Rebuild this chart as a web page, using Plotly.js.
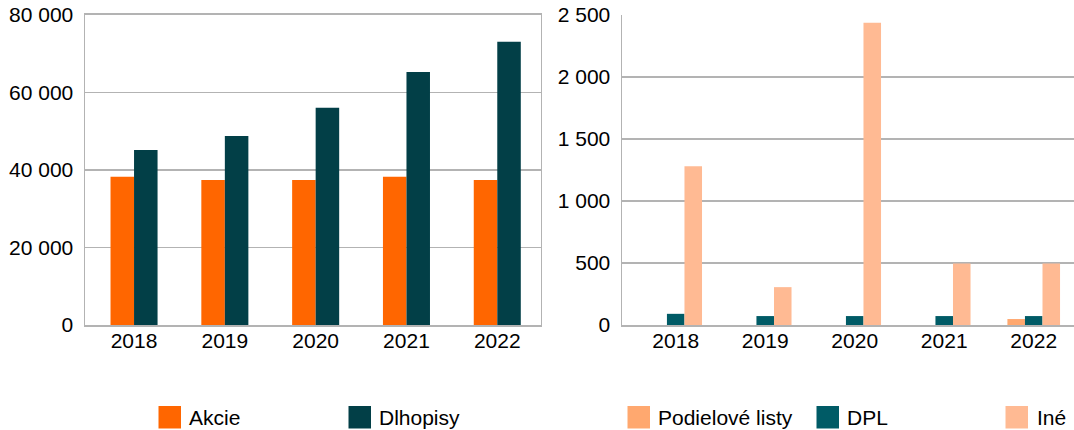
<!DOCTYPE html>
<html>
<head>
<meta charset="utf-8">
<script src="https://cdn.plot.ly/plotly-3.0.1.min.js"></script>
<style>html,body{margin:0;padding:0;background:#fff;} #chart{width:1074px;height:430px;}</style>
</head>
<body>
<div id="chart"></div>
<script>
// ---- data ----
const years = ['2018', '2019', '2020', '2021', '2022'];
const akcie = [38200, 37400, 37400, 38200, 37400];
const dlhopisy = [45100, 48700, 56000, 65200, 73000];
const podielove = [0, 0, 0, 0, 48];
const dpl = [90, 72, 72, 72, 72];
const ine = [1280, 305, 2435, 495, 495];

const leftTicks = [0, 20000, 40000, 60000, 80000];
const rightTicks = [0, 500, 1000, 1500, 2000, 2500];

const names = ['Akcie', 'Dlhopisy', 'Podielové listy', 'DPL', 'Iné'];
const colors = ['#ff6600', '#023f47', '#ffa86f', '#005b66', '#ffba93'];

// ---- layout helpers (pixels -> paper) ----
const W = 1074, H = 430;
const px = v => v / W;
const py = v => 1 - v / H;
const FONT = 'Liberation Sans, Arial, sans-serif';
const GRID = '#b3b3b3';
const FS = 21;

const wL = 0.259, wR = 0.196;
const traces = [
  {type: 'bar', x: years, y: akcie, name: names[0], marker: {color: colors[0]}, xaxis: 'x', yaxis: 'y', width: wL, offset: -wL},
  {type: 'bar', x: years, y: dlhopisy, name: names[1], marker: {color: colors[1]}, xaxis: 'x', yaxis: 'y', width: wL, offset: 0},
  {type: 'bar', x: years, y: podielove, name: names[2], marker: {color: colors[2]}, xaxis: 'x2', yaxis: 'y2', width: wR, offset: -1.5 * wR},
  {type: 'bar', x: years, y: dpl, name: names[3], marker: {color: colors[3]}, xaxis: 'x2', yaxis: 'y2', width: wR, offset: -0.5 * wR},
  {type: 'bar', x: years, y: ine, name: names[4], marker: {color: colors[4]}, xaxis: 'x2', yaxis: 'y2', width: wR, offset: 0.5 * wR}
];

const axisCommon = {
  showline: true, linecolor: GRID, linewidth: 1.5, mirror: true,
  tickfont: {family: FONT, size: FS, color: '#000'}, ticks: '', fixedrange: true
};

// legend built from series names/colours
const legendPos = [
  {sq: 158.5, tx: 189},
  {sq: 348.5, tx: 379},
  {sq: 627.5, tx: 658},
  {sq: 816.5, tx: 847},
  {sq: 1005.5, tx: 1037}
];
const shapes = [], annotations = [];
names.forEach((n, i) => {
  const p = legendPos[i];
  shapes.push({type: 'rect', xref: 'paper', yref: 'paper', x0: px(p.sq), x1: px(p.sq + 22.5), y0: py(428.5), y1: py(406), fillcolor: colors[i], line: {width: 0}});
  annotations.push({xref: 'paper', yref: 'paper', x: px(p.tx - 2), y: py(417), xanchor: 'left', yanchor: 'middle', text: n, showarrow: false, font: {family: FONT, size: FS, color: '#000'}});
});

const layout = {
  width: W, height: H,
  margin: {l: 0, r: 0, t: 0, b: 0, pad: 0},
  paper_bgcolor: '#fff', plot_bgcolor: '#fff',
  showlegend: false,
  separators: ', ',
  barmode: 'group',
  font: {family: FONT, size: FS, color: '#000'},
  xaxis: Object.assign({}, axisCommon, {domain: [px(85), px(540.5)], anchor: 'y', type: 'category', range: [-0.54, 4.476], showgrid: false, ticklabelstandoff: -4}),
  yaxis: Object.assign({}, axisCommon, {domain: [py(325), py(14.7)], anchor: 'x', range: [0, 80000], tickvals: leftTicks, showgrid: true, gridcolor: GRID, gridwidth: 1.5, zeroline: false, separatethousands: true, tickformat: ',d', ticklabelstandoff: 6}),
  xaxis2: Object.assign({}, axisCommon, {domain: [px(622), 1], anchor: 'y2', type: 'category', range: [-0.6, 4.45], showgrid: false, ticklabelstandoff: -4, mirror: false}),
  yaxis2: Object.assign({}, axisCommon, {domain: [py(325), py(14.7)], anchor: 'x2', range: [0, 2500], tickvals: rightTicks, showgrid: true, gridcolor: GRID, gridwidth: 1.5, zeroline: false, separatethousands: true, tickformat: ',d', ticklabelstandoff: 6, mirror: false}),
  shapes: shapes,
  annotations: annotations
};

Plotly.newPlot('chart', traces, layout, {displayModeBar: false, staticPlot: true});
</script>
</body>
</html>
